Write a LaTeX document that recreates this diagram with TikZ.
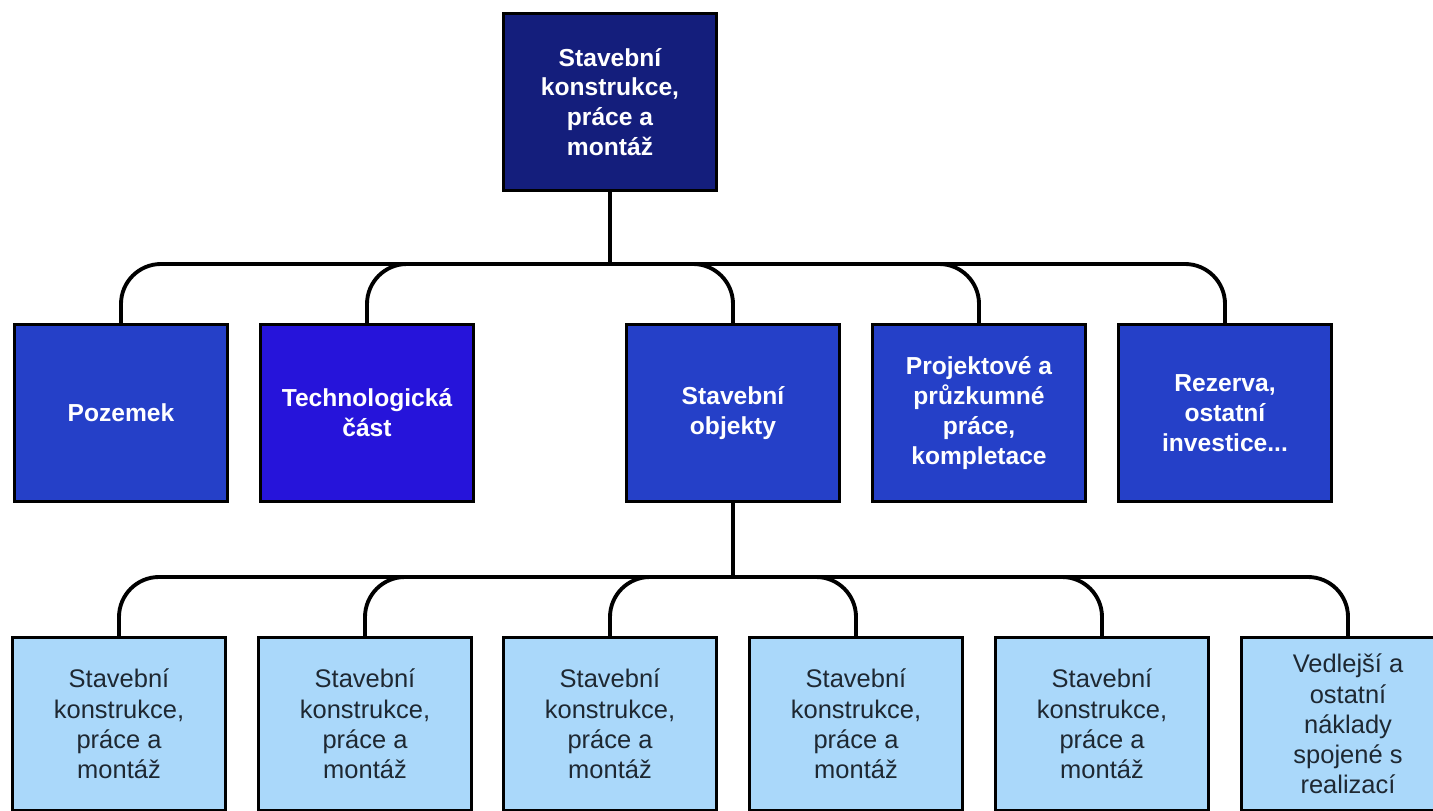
\documentclass[tikz,border=0pt]{standalone}
\usepackage{fontspec}
\setmainfont{Liberation Sans}
\usepackage{xcolor}
\definecolor{navy}{HTML}{141E7C}
\definecolor{groupblue}{HTML}{2540C8}
\definecolor{techblue}{HTML}{2614DA}
\definecolor{itemblue}{HTML}{AAD8FA}
\definecolor{itemtext}{HTML}{1E2832}

\begin{document}
\begin{tikzpicture}[
        x=0.02cm, y=-0.02cm,
        box/.style={draw=black, line width=1.6pt, minimum width=4.26cm, minimum height=3.54cm,
            inner sep=0pt, align=center, text=white, font=\bfseries\fontsize{14}{17}\selectfont},
        group/.style={box, fill=groupblue},
        item/.style={box, fill=itemblue, text=itemtext, minimum height=3.46cm,
            font=\fontsize{14.5}{17.2}\selectfont},
        link/.style={line width=2.2pt, rounded corners=0.8cm}
    ]
    \useasboundingbox (0,0) rectangle (1433,811);

    \coordinate (fork1) at (610,264);
    \coordinate (fork2) at (733,577);

    % top
    \node[box, fill=navy] (top) at (610,102) {Stavební\\konstrukce,\\práce a\\montáž};

    % second level
    \node[group] (poz) at (121,413) {Pozemek};
    \node[group, fill=techblue] (tech) at (367,413) {Technologická\\část};
    \node[group] (obj) at (733,413) {Stavební\\objekty};
    \node[group] (proj) at (979,413) {Projektové a\\průzkumné\\práce,\\kompletace};
    \node[group] (rez) at (1225,413) {Rezerva,\\ostatní\\investice...};

    % third level
    \foreach \Name/\X in {so1/119, so2/365, so3/610, so4/856, so5/1102}
        \node[item] (\Name) at (\X,724) {Stavební\\konstrukce,\\práce a\\montáž};
    \node[item] (vedl) at (1348,724) {Vedlejší a\\ostatní\\náklady\\spojené s\\realizací};

    \draw[link] (top) -- (fork1);
    \foreach \Child in {poz, tech, obj, proj, rez}
        \draw[link] (fork1) -| (\Child.north);

    \draw[link] (obj) -- (fork2);
    \foreach \Child in {so1, so2, so3, so4, so5, vedl}
        \draw[link] (fork2) -| (\Child.north);
\end{tikzpicture}
\end{document}
